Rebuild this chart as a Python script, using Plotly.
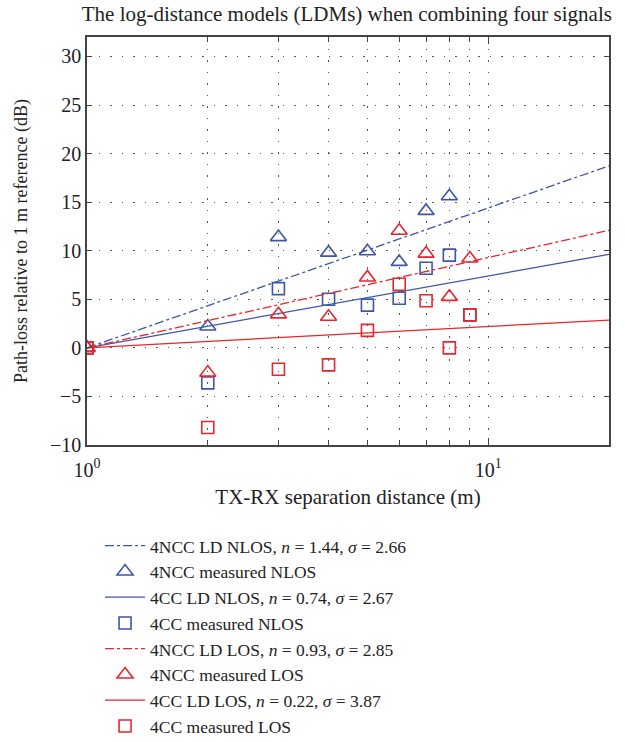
import numpy as np
import plotly.graph_objects as go

# Measurement distances (m)
dist_ncc_nlos = [1, 2, 3, 4, 5, 6, 7, 8]
dist_all = [1, 2, 3, 4, 5, 6, 7, 8, 9]

# Measured path loss relative to 1 m reference (dB)
ncc_nlos_meas = [0, 2.2, 11.4, 9.8, 9.95, 8.85, 14.1, 15.6]
cc_nlos_meas = [0, -3.6, 6.1, 5.0, 4.4, 5.1, 8.2, 9.55, 3.4]
ncc_los_meas = [0, -2.55, 3.45, 3.2, 7.25, 12.05, 9.7, 5.25, 9.2]
cc_los_meas = [0, -8.2, -2.2, -1.75, 1.8, 6.55, 4.85, 0, 3.4]

# Log-distance model parameters
n_ncc_nlos, s_ncc_nlos = 1.44, 2.66
n_cc_nlos, s_cc_nlos = 0.74, 2.67
n_ncc_los, s_ncc_los = 0.93, 2.85
n_cc_los, s_cc_los = 0.22, 3.87

# Model line end points (m)
model_dist = [1, 20]

BLUE = "#3D56A6"
RED = "#E8262D"
TEXT = "#222222"
FONT = "Liberation Serif"


def ld_model(n):
    d = np.array(model_dist, dtype=float)
    return 10 * n * np.log10(d)


def label(name, n, s):
    return f"{name}, <i>n</i> = {n:.2f}, <i>σ</i> = {s:.2f}"


fig = go.Figure()

fig.add_trace(go.Scatter(
    x=model_dist, y=ld_model(n_ncc_nlos), mode="lines",
    line=dict(color=BLUE, width=1.3, dash="dashdot"),
    name=label("4NCC LD NLOS", n_ncc_nlos, s_ncc_nlos)))
fig.add_trace(go.Scatter(
    x=dist_ncc_nlos, y=ncc_nlos_meas, mode="markers",
    marker=dict(symbol="triangle-up-open", size=14, color=BLUE, line=dict(width=1.6)),
    name="4NCC measured NLOS"))
fig.add_trace(go.Scatter(
    x=model_dist, y=ld_model(n_cc_nlos), mode="lines",
    line=dict(color=BLUE, width=1.3),
    name=label("4CC LD NLOS", n_cc_nlos, s_cc_nlos)))
fig.add_trace(go.Scatter(
    x=dist_all, y=cc_nlos_meas, mode="markers",
    marker=dict(symbol="square-open", size=12, color=BLUE, line=dict(width=1.6)),
    name="4CC measured NLOS"))
fig.add_trace(go.Scatter(
    x=model_dist, y=ld_model(n_ncc_los), mode="lines",
    line=dict(color=RED, width=1.3, dash="dashdot"),
    name=label("4NCC LD LOS", n_ncc_los, s_ncc_los)))
fig.add_trace(go.Scatter(
    x=dist_all, y=ncc_los_meas, mode="markers",
    marker=dict(symbol="triangle-up-open", size=14, color=RED, line=dict(width=1.6)),
    name="4NCC measured LOS"))
fig.add_trace(go.Scatter(
    x=model_dist, y=ld_model(n_cc_los), mode="lines",
    line=dict(color=RED, width=1.3),
    name=label("4CC LD LOS", n_cc_los, s_cc_los)))
fig.add_trace(go.Scatter(
    x=dist_all, y=cc_los_meas, mode="markers",
    marker=dict(symbol="square-open", size=12, color=RED, line=dict(width=1.6)),
    name="4CC measured LOS"))

grid_dash = "1.5px,10px"
axis_color = "#444444"

fig.update_xaxes(
    type="log", range=[0, np.log10(20)],
    tickmode="array", tickvals=[1, 10],
    ticktext=["10<sup>0</sup>", "10<sup>1</sup>"],
    ticks="inside", ticklen=7, tickcolor=axis_color,
    ticklabelstandoff=6,
    showgrid=True, gridcolor="#555555", griddash=grid_dash, gridwidth=1,
    minor=dict(tickvals=[2, 3, 4, 5, 6, 7, 8, 9], ticks="inside", ticklen=5,
               tickcolor=axis_color, showgrid=True, gridcolor="#555555",
               griddash=grid_dash, gridwidth=1),
    showline=True, linecolor=axis_color, linewidth=1.5, mirror="ticks",
    zeroline=False, automargin=False,
    tickfont=dict(family=FONT, size=20, color=TEXT),
    title=dict(text="TX-RX separation distance (m)", standoff=10,
               font=dict(family=FONT, size=21, color=TEXT)),
)
fig.update_yaxes(
    range=[-10, 32], tickmode="array",
    tickvals=[-10, -5, 0, 5, 10, 15, 20, 25, 30],
    ticks="inside", ticklen=5, tickcolor=axis_color,
    showgrid=True, gridcolor="#555555", griddash=grid_dash, gridwidth=1,
    showline=True, linecolor=axis_color, linewidth=1.5, mirror="ticks",
    zeroline=False, automargin=False,
    tickfont=dict(family=FONT, size=20, color=TEXT),
    title=dict(text="Path-loss relative to 1 m reference (dB)", standoff=18,
               font=dict(family=FONT, size=18, color=TEXT)),
)

fig.update_layout(
    width=625, height=742,
    margin=dict(l=87, r=16, t=37, b=297, autoexpand=False),
    paper_bgcolor="white", plot_bgcolor="white",
    title=dict(text="The log-distance models (LDMs) when combining four signals",
               x=0.555, xanchor="center", y=0.992, yanchor="top",
               font=dict(family=FONT, size=21, color=TEXT)),
    showlegend=True,
    legend=dict(x=0.025, xanchor="left", y=-0.203, yanchor="top",
                orientation="v", bgcolor="rgba(0,0,0,0)",
                font=dict(family=FONT, size=17.5, color=TEXT),
                tracegroupgap=0, itemwidth=40),
)

fig.write_html("out.html")
